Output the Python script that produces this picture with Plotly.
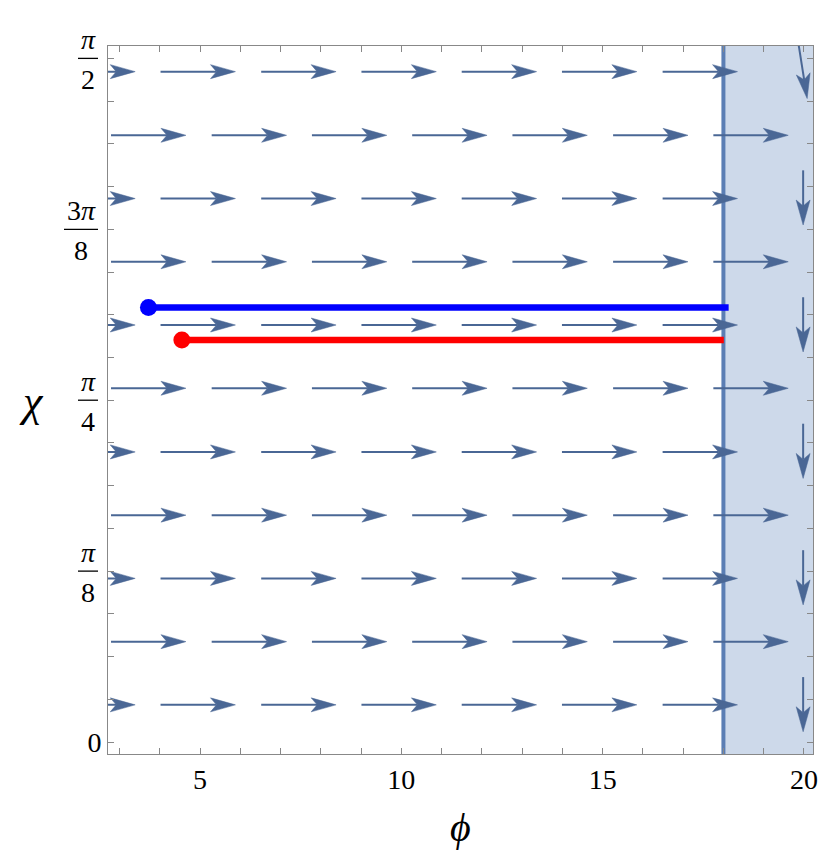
import plotly.graph_objects as go
import numpy as np

# ---------------- data ----------------
# rows of the stream arrows (chi values)
rows_a = [1.569, 1.272, 0.976, 0.679, 0.383, 0.087]
rows_b = [1.420, 1.124, 0.828, 0.531, 0.235]
# arrow tip positions along phi
tips_a = [3.39, 5.88, 8.38, 10.87, 13.36, 15.85, 18.35]
tips_b = [4.65, 7.15, 9.64, 12.13, 14.62, 17.12, 19.61]
arrow_len_phi = 1.86
# downward arrows in shaded region (phi, chi tip)
down_phi = [19.98, 19.98, 19.98, 19.98, 19.98]
down_tip = [1.210, 0.913, 0.617, 0.321, 0.024]
down_len = 0.128
# tilted arrow at the top
tilt_start = (19.866, 1.633)
tilt_tip = (20.08, 1.506)

phi_wall = 18.0
blue_start = (3.72, 1.017)
blue_end = (18.13, 1.017)
red_start = (4.55, 0.941)
red_end = (18.01, 0.941)

x_ticks = [5, 10, 15, 20]
y_ticks = [0.0, 0.4, 0.8, 1.2, 1.6]
y_tick_num = ["", "<i>π</i>", "<i>π</i>", "3<i>π</i>", "<i>π</i>"]
y_tick_den = ["", "8", "4", "8", "2"]

# ---------------- layout geometry ----------------
W, H = 830, 857
ML, MR, MT, MB = 108, 15, 46, 103
PW, PH = W - ML - MR, H - MT - MB
XR = [2.715, 20.225]
YR = [-0.028, 1.629]
xpx = PW / (XR[1] - XR[0])
ypx = PH / (YR[1] - YR[0])

ARROW_COL = "#4a6795"
HEAD_L, HEAD_W, NOTCH = 25.0, 7.0, 19.0

shaft_x, shaft_y, head_x, head_y = [], [], [], []


def add_arrow(x0, y0, x1, y1):
    # pixel-space direction
    dxp, dyp = (x1 - x0) * xpx, (y1 - y0) * ypx
    L = np.hypot(dxp, dyp)
    ux, uy = dxp / L, dyp / L
    nx, ny = -uy, ux

    def pt(a, b):
        return x1 + (ux * a + nx * b) / xpx, y1 + (uy * a + ny * b) / ypx

    nxp, nyp = pt(-NOTCH, 0)
    shaft_x.extend([x0, nxp, None])
    shaft_y.extend([y0, nyp, None])
    pts = [pt(0, 0), pt(-HEAD_L, HEAD_W), pt(-NOTCH, 0), pt(-HEAD_L, -HEAD_W), pt(0, 0)]
    for p in pts:
        head_x.append(p[0])
        head_y.append(p[1])
    head_x.append(None)
    head_y.append(None)


for r in rows_a:
    for t in tips_a:
        add_arrow(t - arrow_len_phi, r, t, r)
for r in rows_b:
    for t in tips_b:
        add_arrow(t - arrow_len_phi, r, t, r)
for p, t in zip(down_phi, down_tip):
    add_arrow(p, t + down_len, p, t)
add_arrow(tilt_start[0], tilt_start[1], tilt_tip[0], tilt_tip[1])

fig = go.Figure()

fig.add_trace(go.Scatter(x=shaft_x, y=shaft_y, mode="lines",
                         line=dict(color=ARROW_COL, width=2.0),
                         hoverinfo="skip", showlegend=False))
fig.add_trace(go.Scatter(x=head_x, y=head_y, mode="lines", fill="toself",
                         fillcolor=ARROW_COL, line=dict(color=ARROW_COL, width=0.5),
                         hoverinfo="skip", showlegend=False))

fig.add_trace(go.Scatter(x=[blue_start[0], blue_end[0]], y=[blue_start[1], blue_end[1]],
                         mode="lines", line=dict(color="#0000ff", width=6.5),
                         showlegend=False))
fig.add_trace(go.Scatter(x=[red_start[0], red_end[0]], y=[red_start[1], red_end[1]],
                         mode="lines", line=dict(color="#ff0000", width=6.5),
                         showlegend=False))
fig.add_trace(go.Scatter(x=[blue_start[0]], y=[blue_start[1]], mode="markers",
                         marker=dict(color="#0000ff", size=17), showlegend=False))
fig.add_trace(go.Scatter(x=[red_start[0]], y=[red_start[1]], mode="markers",
                         marker=dict(color="#ff0000", size=17), showlegend=False))

shapes = [
    dict(type="rect", xref="x", yref="paper", x0=phi_wall, x1=XR[1] + 1, y0=0, y1=1,
         fillcolor="#cdd9ea", line=dict(width=0), layer="below"),
    dict(type="line", xref="x", yref="paper", x0=phi_wall, x1=phi_wall, y0=0, y1=1,
         line=dict(color="#5b7eb4", width=4), layer="below"),
]

FONT = "Liberation Serif, DejaVu Serif, serif"
annotations = []
for v, n, d in zip(y_ticks, y_tick_num, y_tick_den):
    if not n:
        continue
    bw = 34 if n.startswith("3") else 20
    shapes.append(dict(type="line", xref="paper", yref="y", xsizemode="pixel", xanchor=0,
                       x0=-10 - bw, x1=-10, y0=v, y1=v, line=dict(color="black", width=1.3)))
    cx = -10 - bw / 2
    annotations.append(dict(xref="paper", yref="y", x=0, y=v, xshift=cx, yshift=19,
                            text=n, showarrow=False, xanchor="center", yanchor="middle",
                            font=dict(family=FONT, size=28, color="black")))
    annotations.append(dict(xref="paper", yref="y", x=0, y=v, xshift=cx, yshift=-21,
                            text=d, showarrow=False, xanchor="center", yanchor="middle",
                            font=dict(family=FONT, size=28, color="black")))

annotations.append(dict(xref="paper", yref="paper", x=(31.7 - ML) / PW, y=(MT + PH - 401) / PH,
                        text="<i>χ</i>", showarrow=False, xanchor="center", yanchor="middle",
                        font=dict(family=FONT, size=44, color="black")))
annotations.append(dict(xref="paper", yref="paper", x=(462 - ML) / PW, y=(MT + PH - 827) / PH,
                        text="<i>ϕ</i>", showarrow=False, xanchor="center", yanchor="middle",
                        font=dict(family=FONT, size=40, color="black")))

axis_common = dict(showgrid=False, zeroline=False, showline=True, linecolor="#888888",
                   linewidth=1, mirror="ticks", ticks="inside", ticklen=6,
                   tickcolor="#888888", tickwidth=1,
                   tickfont=dict(family=FONT, size=28, color="black"))

fig.update_layout(
    width=W, height=H,
    margin=dict(l=ML, r=MR, t=MT, b=MB),
    paper_bgcolor="white", plot_bgcolor="white",
    shapes=shapes, annotations=annotations,
    xaxis=dict(range=XR, tickvals=x_ticks, ticktext=[str(t) for t in x_ticks],
               minor=dict(ticks="inside", ticklen=6, dtick=1, tick0=0, tickcolor="#888888"),
               **axis_common),
    yaxis=dict(range=YR, tickvals=y_ticks, ticktext=["0", "", "", "", ""],
               minor=dict(ticks="inside", ticklen=6, dtick=0.1, tick0=0, tickcolor="#888888"),
               **axis_common),
)

fig.write_html("out.html", config={"displayModeBar": False},
               post_script="document.body.style.margin='0';")
